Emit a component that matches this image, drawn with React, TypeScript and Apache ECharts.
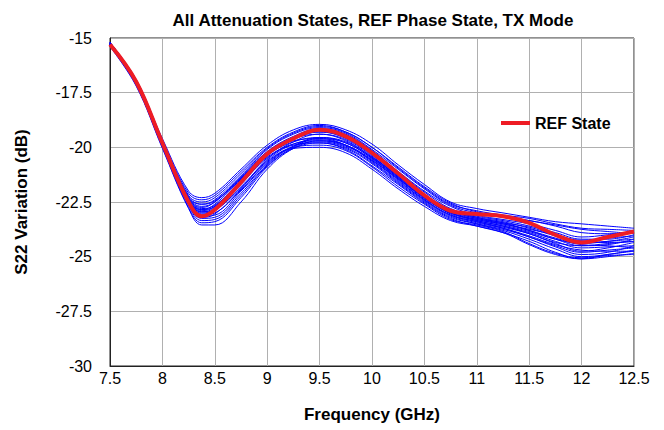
import React, { useEffect, useRef } from "react";
import * as echarts from "echarts";

const frequencies = [7.5, 7.75, 8, 8.25, 8.375, 8.5, 8.75, 9, 9.25, 9.5, 9.75, 10, 10.25, 10.5, 10.75, 11, 11.25, 11.5, 11.75, 12, 12.25, 12.5];

const refState = [-15.3, -17.0, -19.8, -22.5, -23.15, -22.85, -21.6, -20.3, -19.6, -19.2, -19.5, -20.25, -21.2, -22.2, -22.9, -23.05, -23.15, -23.45, -24.0, -24.35, -24.1, -23.85];

const state01 = [-15.2, -16.9, -19.6, -22.0, -22.3, -22.1, -21.0, -19.9, -19.2, -18.95, -19.2, -19.85, -20.8, -21.7, -22.5, -22.8, -23.0, -23.2, -23.4, -23.5, -23.6, -23.7];
const state02 = [-15.25, -17.0, -19.7, -22.1, -22.4, -22.2, -21.1, -20.0, -19.3, -19.0, -19.3, -20.0, -20.95, -21.85, -22.6, -22.9, -23.1, -23.25, -23.5, -23.7, -23.75, -23.8];
const state03 = [-15.2, -16.95, -19.75, -22.25, -22.6, -22.4, -21.3, -20.1, -19.4, -19.1, -19.35, -20.1, -21.0, -21.9, -22.65, -23.0, -23.2, -23.35, -23.6, -23.9, -23.95, -23.9];
const state04 = [-15.3, -17.05, -19.8, -22.3, -22.7, -22.5, -21.4, -20.2, -19.5, -19.15, -19.4, -20.15, -21.1, -22.0, -22.7, -23.1, -23.3, -23.5, -23.8, -24.1, -24.0, -23.85];
const state05 = [-15.25, -17.0, -19.85, -22.4, -22.9, -22.7, -21.5, -20.25, -19.55, -19.2, -19.45, -20.2, -21.15, -22.05, -22.8, -23.15, -23.35, -23.6, -23.9, -24.2, -24.2, -24.0];
const state06 = [-15.3, -17.1, -19.9, -22.5, -23.0, -22.85, -21.7, -20.4, -19.65, -19.3, -19.55, -20.3, -21.25, -22.15, -22.85, -23.2, -23.4, -23.7, -24.05, -24.35, -24.3, -24.1];
const state07 = [-15.35, -17.1, -19.95, -22.6, -23.2, -23.05, -21.9, -20.55, -19.75, -19.4, -19.65, -20.4, -21.35, -22.2, -22.9, -23.25, -23.45, -23.8, -24.2, -24.5, -24.45, -24.2];
const state08 = [-15.35, -17.15, -20.0, -22.75, -23.45, -23.4, -22.3, -20.9, -20.0, -19.6, -19.8, -20.5, -21.4, -22.3, -23.0, -23.35, -23.6, -23.95, -24.4, -24.75, -24.6, -24.35];
const state09 = [-15.4, -17.2, -20.05, -22.8, -23.55, -23.55, -22.5, -21.0, -20.05, -19.7, -19.9, -20.6, -21.5, -22.4, -23.1, -23.4, -23.7, -24.1, -24.55, -24.9, -24.8, -24.5];
const state10 = [-15.3, -17.1, -19.9, -22.55, -23.1, -23.0, -21.95, -20.7, -19.95, -19.75, -20.0, -20.7, -21.6, -22.45, -23.15, -23.5, -23.8, -24.2, -24.65, -25.0, -24.9, -24.7];
const state11 = [-15.25, -17.05, -19.85, -22.45, -22.95, -22.85, -21.8, -20.6, -19.9, -19.8, -20.1, -20.85, -21.7, -22.55, -23.25, -23.6, -23.9, -24.3, -24.8, -25.1, -25.0, -24.85];
const state12 = [-15.3, -17.1, -19.9, -22.5, -23.05, -22.9, -21.85, -20.65, -20.0, -19.9, -20.15, -20.9, -21.8, -22.6, -23.3, -23.55, -23.85, -24.4, -24.85, -25.05, -24.95, -24.9];
const state13 = [-15.2, -17.0, -19.8, -22.35, -22.8, -22.65, -21.6, -20.45, -19.85, -19.7, -19.95, -20.6, -21.45, -22.3, -23.0, -23.35, -23.6, -23.9, -24.3, -24.6, -24.55, -24.5];
const state14 = [-15.25, -17.0, -19.8, -22.35, -22.75, -22.5, -21.35, -20.2, -19.6, -19.4, -19.7, -20.45, -21.35, -22.25, -22.95, -23.3, -23.5, -23.75, -24.0, -24.3, -24.35, -24.3];
const state15 = [-15.3, -17.05, -19.85, -22.45, -22.95, -22.75, -21.55, -20.3, -19.6, -19.3, -19.6, -20.35, -21.3, -22.2, -22.85, -23.2, -23.45, -23.65, -24.0, -24.25, -24.15, -24.05];
const state16 = [-15.25, -17.0, -19.75, -22.3, -22.6, -22.45, -21.4, -20.35, -19.75, -19.55, -19.8, -20.5, -21.4, -22.3, -23.05, -23.4, -23.65, -23.95, -24.35, -24.5, -24.4, -24.3];
const state17 = [-15.3, -17.1, -19.9, -22.6, -23.25, -23.2, -22.1, -20.8, -19.95, -19.55, -19.75, -20.45, -21.3, -22.2, -22.9, -23.25, -23.5, -23.8, -24.15, -24.45, -24.5, -24.6];
const state18 = [-15.35, -17.15, -19.95, -22.65, -23.35, -23.3, -22.2, -20.85, -20.05, -19.8, -20.05, -20.75, -21.65, -22.5, -23.2, -23.5, -23.75, -24.1, -24.5, -24.8, -24.7, -24.6];
const state19 = [-15.2, -16.95, -19.7, -22.2, -22.5, -22.3, -21.2, -20.05, -19.35, -19.05, -19.3, -20.0, -20.9, -21.8, -22.55, -22.95, -23.15, -23.35, -23.55, -23.75, -23.85, -23.95];
const state20 = [-15.25, -17.0, -19.8, -22.4, -22.85, -22.6, -21.45, -20.3, -19.7, -19.6, -19.9, -20.65, -21.55, -22.4, -23.1, -23.45, -23.7, -24.05, -24.45, -24.7, -24.75, -24.75];
const state21 = [-15.3, -17.05, -19.85, -22.4, -22.85, -22.7, -21.65, -20.5, -19.85, -19.65, -19.9, -20.55, -21.45, -22.35, -23.0, -23.3, -23.55, -23.85, -24.2, -24.4, -24.3, -24.2];
const state22 = [-15.3, -17.1, -19.9, -22.55, -23.15, -23.1, -22.0, -20.75, -20.05, -20.0, -20.25, -21.0, -21.9, -22.7, -23.35, -23.6, -23.9, -24.45, -24.9, -25.1, -24.9, -24.75];

const attenuationStates = [state01, state02, state03, state04, state05, state06, state07, state08, state09, state10, state11, state12, state13, state14, state15, state16, state17, state18, state19, state20, state21, state22];

const titleText = "All Attenuation States, REF Phase State, TX Mode";
const xAxisName = "Frequency (GHz)";
const yAxisName = "S22 Variation (dB)";
const legendName = "REF State";

const FONT = "'Liberation Sans', Arial, sans-serif";

export default function App() {
  const ref = useRef<HTMLDivElement>(null);
  useEffect(() => {
    if (!ref.current) return;
    const chart = echarts.init(ref.current, null, { renderer: "svg" });
    const pair = (arr: number[]) => frequencies.map((f, i) => [f, arr[i]]);
    const blueSeries = attenuationStates.map((s, k) => ({
      name: "State " + (k + 1),
      type: "line",
      data: pair(s),
      smooth: 0.4,
      symbol: "none",
      lineStyle: { color: "#0000ff", width: 1 },
      itemStyle: { color: "#0000ff" },
      z: 2,
    }));
    chart.setOption({
      animation: false,
      backgroundColor: "#ffffff",
      graphic: [
        {
          type: "text",
          x: 373,
          y: 20,
          style: {
            text: titleText,
            fontFamily: FONT,
            fontSize: 17,
            fontWeight: "bold",
            fill: "#000",
            textAlign: "center",
            textVerticalAlign: "middle",
          },
        },
      ],
      legend: {
        data: [legendName],
        left: 496,
        top: 110,
        icon: "rect",
        itemWidth: 29,
        itemHeight: 4,
        itemGap: 8,
        textStyle: { fontFamily: FONT, fontSize: 16, fontWeight: "bold", color: "#000" },
      },
      grid: {
        left: 110,
        right: 30,
        top: 38,
        bottom: 64,
        show: true,
        borderColor: "#222",
        borderWidth: 1,
        backgroundColor: "transparent",
      },
      xAxis: {
        type: "value",
        min: 7.5,
        max: 12.5,
        interval: 0.5,
        name: xAxisName,
        nameLocation: "middle",
        nameGap: 40,
        nameTextStyle: { fontFamily: FONT, fontSize: 17, fontWeight: "bold", color: "#000" },
        axisLine: { show: true, lineStyle: { color: "#222" } },
        axisTick: { show: false },
        axisLabel: { fontFamily: FONT, fontSize: 16, color: "#000", margin: 4 },
        splitLine: { show: true, lineStyle: { color: "#b0b0b0", width: 1 } },
      },
      yAxis: {
        type: "value",
        min: -30,
        max: -15,
        interval: 2.5,
        name: yAxisName,
        nameLocation: "middle",
        nameGap: 80,
        nameRotate: 90,
        nameTextStyle: { fontFamily: FONT, fontSize: 17, fontWeight: "bold", color: "#000" },
        axisLine: { show: true, lineStyle: { color: "#222" } },
        axisTick: { show: false },
        axisLabel: { fontFamily: FONT, fontSize: 16, color: "#000", margin: 18 },
        splitLine: { show: true, lineStyle: { color: "#b0b0b0", width: 1 } },
      },
      series: [
        ...blueSeries,
        {
          name: legendName,
          type: "line",
          data: pair(refState),
          smooth: 0.4,
          symbol: "none",
          lineStyle: { color: "#ee1c24", width: 4 },
          itemStyle: { color: "#ee1c24" },
          z: 5,
        },
      ],
    });
    return () => chart.dispose();
  }, []);
  return <div ref={ref} style={{ width: 664, height: 430, position: "absolute", left: 0, top: 0 }} />;
}
